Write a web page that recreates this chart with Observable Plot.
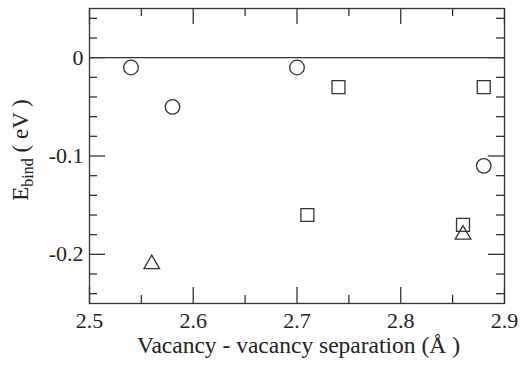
<!DOCTYPE html>
<html><head><meta charset="utf-8">
<script src="https://cdn.jsdelivr.net/npm/d3@7"></script>
<script src="https://cdn.jsdelivr.net/npm/@observablehq/plot@0.6"></script>
<style>
body{margin:0;background:#fff;overflow:hidden}
</style>
</head><body><div id="chart"></div>
<script>
const circleX = [2.54, 2.58, 2.70, 2.88];
const circleY = [-0.01, -0.05, -0.01, -0.11];
const squareX = [2.74, 2.88, 2.71, 2.86];
const squareY = [-0.03, -0.03, -0.16, -0.17];
const triangleX = [2.56, 2.86];
const triangleY = [-0.21, -0.18];
const xMajorTicks = [2.5, 2.6, 2.7, 2.8, 2.9];
const xMinorTicks = [2.55, 2.65, 2.75, 2.85];
const yMajorTicks = [-0.2, -0.1, 0];
const yMinorTicks = [-0.24, -0.22, -0.18, -0.16, -0.14, -0.12, -0.08, -0.06, -0.04, -0.02, 0.02, 0.04];
const xLabel = "Vacancy - vacancy separation (Å )";
const yLabelMain = "E";
const yLabelSub = "bind";
const yLabelUnit = " ( eV )";

const ink = "#333";
const serif = "Liberation Serif, DejaVu Serif, serif";
const W = 522, H = 367, mL = 89, mR = 18, mT = 8, mB = 64;
const fw = W - mL - mR, fh = H - mT - mB;
const majLen = 16, minLen = 8;

const pts = (xs, ys) => xs.map((x, i) => ({x, y: ys[i]}));

const chart = Plot.plot({
  width: W, height: H,
  marginLeft: mL, marginRight: mR, marginTop: mT, marginBottom: mB,
  style: {fontSize: "22px", background: "#fff"},
  x: {domain: [2.5, 2.9]},
  y: {domain: [-0.25, 0.05]},
  marks: [
    Plot.ruleY([0], {stroke: ink, strokeWidth: 1.3}),
    Plot.tickX(xMajorTicks, {x: d => d, stroke: ink, strokeWidth: 1.3, insetTop: fh - majLen}),
    Plot.tickX(xMinorTicks, {x: d => d, stroke: ink, strokeWidth: 1.3, insetTop: fh - minLen}),
    Plot.tickX(xMajorTicks, {x: d => d, stroke: ink, strokeWidth: 1.3, insetBottom: fh - majLen}),
    Plot.tickX(xMinorTicks, {x: d => d, stroke: ink, strokeWidth: 1.3, insetBottom: fh - minLen}),
    Plot.tickY(yMajorTicks, {y: d => d, stroke: ink, strokeWidth: 1.3, insetRight: fw - majLen}),
    Plot.tickY(yMinorTicks, {y: d => d, stroke: ink, strokeWidth: 1.3, insetRight: fw - minLen}),
    Plot.tickY(yMajorTicks, {y: d => d, stroke: ink, strokeWidth: 1.3, insetLeft: fw - majLen}),
    Plot.tickY(yMinorTicks, {y: d => d, stroke: ink, strokeWidth: 1.3, insetLeft: fw - minLen}),
    Plot.axisX({ticks: xMajorTicks, tickSize: 0, tickPadding: 9, tickFormat: d3.format(".1f"), label: null, fill: "#222", fontSize: 22}),
    Plot.axisY({ticks: yMajorTicks, tickSize: 0, tickPadding: 6, tickFormat: d => d === 0 ? "0" : String(d), label: null, fill: "#222", fontSize: 22}),
    Plot.dot(pts(circleX, circleY), {x: "x", y: "y", symbol: d3.symbolCircle, r: 7.3, fill: "none", stroke: ink, strokeWidth: 1.3}),
    Plot.dot(pts(squareX, squareY), {x: "x", y: "y", symbol: d3.symbolSquare, r: 7.3, fill: "none", stroke: ink, strokeWidth: 1.3}),
    Plot.dot(pts(triangleX, triangleY), {x: "x", y: "y", symbol: d3.symbolTriangle, r: 5.8, fill: "none", stroke: ink, strokeWidth: 1.3}),
    Plot.frame({stroke: ink, strokeWidth: 1.3})
  ]
});

const svg = d3.select(chart);
svg.append("text")
  .attr("x", (mL + W - mR) / 2 + 2)
  .attr("y", 353)
  .attr("text-anchor", "middle")
  .attr("fill", "#222")
  .style("font-size", "23.5px")
  .text(xLabel);

const yl = svg.append("text")
  .attr("transform", "translate(28,150) rotate(-90)")
  .attr("text-anchor", "middle")
  .attr("fill", "#222")
  .style("font-size", "23px");
yl.append("tspan").text(yLabelMain);
yl.append("tspan").attr("dy", 5).style("font-size", "16px").text(yLabelSub);
yl.append("tspan").attr("dy", -5).text(yLabelUnit);

svg.attr("font-family", serif).style("font-family", serif);
svg.selectAll("g").attr("font-family", serif);
svg.selectAll("text").attr("font-family", serif).style("font-family", serif);

document.getElementById("chart").append(chart);
</script>
</body></html>
